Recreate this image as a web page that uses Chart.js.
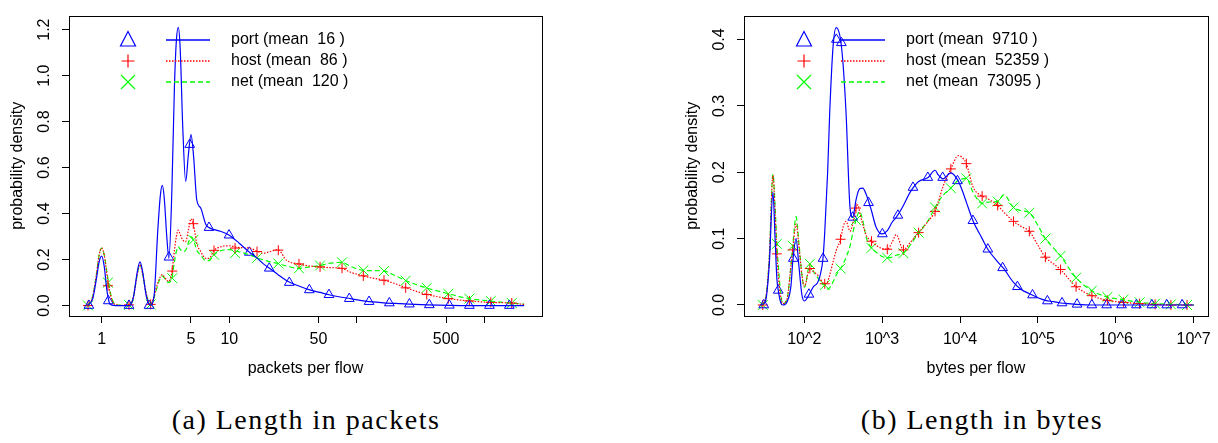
<!DOCTYPE html>
<html>
<head>
<meta charset="utf-8">
<script src="https://cdn.jsdelivr.net/npm/chart.js@4.4.0/dist/chart.umd.min.js"></script>
<style>
  body { margin: 0; background: #fff; width: 1218px; height: 443px; position: relative; overflow: hidden; }
  canvas { position: absolute; top: 0; }
  .cap { position: absolute; top: 404px; height: 32px; line-height: 32px; text-align: center;
         font-family: "Liberation Serif", serif; font-size: 28px; letter-spacing: 1.5px; color: #000; white-space: nowrap; }
</style>
</head>
<body>
<canvas id="pkts" width="609" height="390" style="left:0"></canvas>
<canvas id="bytes" width="609" height="390" style="left:609px"></canvas>
<div class="cap" style="left:0;width:612px">(a) Length in packets</div>
<div class="cap" style="left:678px;width:608px">(b) Length in bytes</div>
<script>
// x values are log10 of the flow length
const pktGrid = [-0.11,-0.07,-0.04,-0.02,0,0.02,0.04,0.06,0.08,0.11,0.22,0.25,0.28,0.30,0.32,0.35,0.38,0.41,0.44,0.46,0.475,0.49,0.51,0.527,0.55,0.57,0.585,0.60,0.615,0.635,0.658,0.68,0.70,0.72,0.745,0.776,0.815,0.84,0.88,0.93,1.0,1.08,1.16,1.22,1.27,1.32,1.38,1.45,1.54,1.63,1.71,1.78,1.88,1.95,2.05,2.1,2.21,2.3,2.41,2.55,2.72,2.88,3.04,3.2,3.31];
const pktPort = [0,0.03,0.12,0.19,0.215,0.17,0.07,0.012,0.002,0,0,0.04,0.15,0.19,0.15,0.04,0.002,0.04,0.33,0.48,0.523,0.47,0.30,0.205,0.50,0.95,1.15,1.21,1.12,0.78,0.54,0.66,0.743,0.65,0.46,0.424,0.354,0.339,0.33,0.323,0.306,0.27,0.231,0.205,0.18,0.16,0.135,0.108,0.086,0.068,0.057,0.047,0.036,0.03,0.02,0.017,0.012,0.009,0.006,0.003,0.001,0,0,0,0];
const pktHost = [0,0.04,0.14,0.22,0.25,0.22,0.14,0.07,0.025,0.003,0,0.04,0.14,0.178,0.14,0.05,0.005,0.04,0.10,0.125,0.135,0.125,0.11,0.105,0.145,0.24,0.30,0.328,0.31,0.285,0.278,0.33,0.377,0.35,0.27,0.235,0.205,0.205,0.24,0.255,0.26,0.252,0.25,0.235,0.228,0.235,0.243,0.196,0.181,0.172,0.168,0.165,0.162,0.145,0.129,0.122,0.11,0.095,0.072,0.048,0.03,0.02,0.014,0.011,0.005];
const pktNet = [0,0.04,0.14,0.22,0.25,0.22,0.15,0.08,0.03,0.004,0,0.04,0.14,0.178,0.14,0.05,0.005,0.035,0.09,0.12,0.128,0.12,0.105,0.10,0.119,0.19,0.235,0.256,0.245,0.235,0.24,0.275,0.30,0.285,0.24,0.22,0.195,0.195,0.221,0.238,0.243,0.233,0.22,0.207,0.198,0.19,0.183,0.172,0.162,0.168,0.174,0.183,0.188,0.17,0.153,0.152,0.15,0.13,0.102,0.076,0.051,0.03,0.02,0.011,0.006];
const pktPortMarkX = [-0.100,0.052,0.214,0.371,0.527,0.690,0.841,0.998,1.157,1.313,1.470,1.627,1.781,1.940,2.095,2.254,2.411,2.567,2.724,2.881,3.038,3.194];
const pktPortMarkY = [0,0.02,0,0,0.21,0.70,0.339,0.306,0.231,0.162,0.10,0.068,0.047,0.030,0.017,0.011,0.006,0.003,0.001,0,0,0];
const pktMarkX = [-0.107,0.049,0.214,0.384,0.553,0.718,0.880,1.045,1.217,1.384,1.546,1.711,1.883,2.050,2.212,2.382,2.547,2.716,2.881,3.049,3.213];
const pktHostMarkY = [0,0.086,0.003,0.005,0.15,0.356,0.24,0.25,0.235,0.241,0.181,0.168,0.162,0.129,0.11,0.077,0.048,0.03,0.02,0.014,0.011];
const pktNetMarkY = [0,0.10,0.003,0.005,0.119,0.285,0.221,0.228,0.207,0.183,0.162,0.174,0.188,0.153,0.15,0.108,0.077,0.051,0.03,0.02,0.011];
const pktTickVals = [1,5,10,50,100,500,1000];
const pktTickLabels = ['1','5','10','50','','500',''];
const pktYTicks = [0,0.2,0.4,0.6,0.8,1.0,1.2];
const pktLegend = ['port (mean  16 )','host (mean  86 )','net (mean  120 )'];

const byteGrid = [1.44,1.50,1.55,1.598,1.625,1.648,1.666,1.70,1.725,1.78,1.83,1.852,1.895,1.93,1.97,2.0,2.072,2.12,2.18,2.24,2.263,2.30,2.326,2.37,2.41,2.466,2.50,2.537,2.588,2.622,2.664,2.69,2.71,2.75,2.80,2.863,2.92,3.0,3.066,3.13,3.18,3.273,3.36,3.468,3.59,3.679,3.72,3.78,3.882,3.976,4.03,4.081,4.166,4.284,4.357,4.483,4.56,4.687,4.79,4.89,5.0,5.096,5.2,5.291,5.39,5.49,5.693,5.892,6.099,6.306,6.505,6.708,7.0];
const bytePort = [0,0.005,0.06,0.17,0.10,0.04,0.022,0.003,0,0.005,0.03,0.065,0.10,0.06,0.015,0.006,0.018,0.028,0.036,0.07,0.11,0.2,0.288,0.39,0.418,0.40,0.36,0.288,0.146,0.132,0.158,0.17,0.175,0.176,0.165,0.142,0.118,0.107,0.112,0.125,0.132,0.15,0.17,0.186,0.192,0.203,0.196,0.19,0.199,0.187,0.172,0.155,0.127,0.1,0.084,0.065,0.055,0.034,0.023,0.017,0.011,0.007,0.005,0.003,0.002,0.001,0,0,0,0,0,0,0];
const byteHost = [0,0.008,0.07,0.195,0.14,0.077,0.045,0.01,0.002,0.01,0.06,0.083,0.122,0.09,0.045,0.028,0.055,0.05,0.044,0.033,0.032,0.035,0.045,0.065,0.082,0.099,0.118,0.126,0.111,0.122,0.146,0.151,0.14,0.122,0.104,0.096,0.09,0.085,0.084,0.095,0.106,0.083,0.094,0.109,0.126,0.141,0.155,0.178,0.205,0.225,0.222,0.213,0.178,0.164,0.16,0.15,0.14,0.126,0.118,0.111,0.09,0.072,0.062,0.0535,0.04,0.0275,0.014,0.007,0.004,0.002,0.001,0,0];
const byteNet = [0,0.008,0.07,0.197,0.15,0.092,0.06,0.015,0.002,0.01,0.06,0.089,0.133,0.095,0.045,0.026,0.062,0.05,0.04,0.031,0.03,0.024,0.026,0.035,0.045,0.055,0.062,0.072,0.089,0.108,0.128,0.138,0.141,0.128,0.1,0.086,0.08,0.073,0.071,0.072,0.075,0.078,0.09,0.109,0.127,0.147,0.155,0.165,0.176,0.188,0.19,0.191,0.17,0.153,0.155,0.156,0.166,0.147,0.142,0.139,0.12,0.10,0.086,0.074,0.057,0.041,0.0216,0.012,0.008,0.004,0.002,0.001,0];
const bytePortMarkX = [1.480,1.666,1.860,2.060,2.241,2.412,2.476,2.622,2.825,3.003,3.202,3.396,3.586,3.777,3.967,4.166,4.357,4.547,4.737,4.931,5.122,5.310,5.503,5.693,5.883,6.074,6.264,6.463,6.654,6.852];
const bytePortMarkY = [0,0.022,0.07,0.016,0.07,0.40,0.395,0.132,0.154,0.107,0.135,0.177,0.192,0.192,0.187,0.127,0.084,0.056,0.0275,0.015,0.006,0.003,0.001,0,0,0,0,0,0,0];
const byteMarkX = [1.467,1.648,1.852,2.072,2.263,2.466,2.664,2.863,3.066,3.273,3.468,3.679,3.882,4.081,4.284,4.483,4.687,4.890,5.096,5.291,5.490,5.693,5.892,6.099,6.306,6.505,6.708,6.915];
const byteHostMarkY = [0,0.077,0.083,0.055,0.032,0.099,0.146,0.096,0.084,0.083,0.109,0.141,0.205,0.213,0.164,0.15,0.126,0.111,0.072,0.0535,0.0275,0.014,0.007,0.004,0.002,0.001,0,0];
const byteNetMarkY = [0,0.092,0.089,0.062,0.03,0.055,0.128,0.086,0.071,0.078,0.109,0.147,0.176,0.191,0.153,0.156,0.147,0.139,0.10,0.074,0.041,0.0216,0.012,0.008,0.004,0.002,0.001,0];
const byteTickVals = [2,3,4,5,6,7];
const byteTickLabels = ['10^2','10^3','10^4','10^5','10^6','10^7'];
const byteYTicks = [0,0.1,0.2,0.3,0.4];
const byteLegend = ['port (mean  9710 )','host (mean  52359 )','net (mean  73095 )'];

const BLUE = '#0000FF', RED = '#FF0000', GREEN = '#00FF00';
const FONT = { family: 'Liberation Sans, Arial, sans-serif', size: 16 };

Chart.defaults.color = '#000';
Chart.defaults.font.family = FONT.family;
Chart.defaults.font.size = 16;

function pairs(xs, ys) {
  return xs.map((x, i) => ({ x: x, y: ys[i] }));
}

function curve(xs, ys, color, dash, width) {
  return {
    data: pairs(xs, ys), borderColor: color, borderWidth: width, borderDash: dash,
    pointRadius: 0, fill: false, cubicInterpolationMode: 'monotone'
  };
}

function marks(xs, ys, color, style, r) {
  return {
    data: pairs(xs, ys), showLine: false, borderColor: color, backgroundColor: 'rgba(0,0,0,0)',
    pointStyle: style, pointRadius: r, pointBorderWidth: 1, pointHoverRadius: r
  };
}

const boxAndLegend = {
  id: 'boxAndLegend',
  afterDatasetsDraw(chart, args, opts) {
    const { ctx, chartArea: a } = chart;
    ctx.save();
    ctx.strokeStyle = '#000';
    ctx.lineWidth = 1;
    ctx.strokeRect(Math.round(a.left) + 0.5, Math.round(a.top) + 0.5,
      Math.round(a.right - a.left), Math.round(a.bottom - a.top));

    const colors = [BLUE, RED, GREEN];
    const dashes = [[], [1.5, 1.5], [5, 3]];
    opts.labels.forEach((label, i) => {
      const y = opts.rows[i];
      const x = opts.symX;
      ctx.strokeStyle = colors[i];
      ctx.lineWidth = 1.2;
      ctx.setLineDash([]);
      ctx.beginPath();
      if (i === 0) {
        ctx.moveTo(x, y - 8.5);
        ctx.lineTo(x - 7.5, y + 6);
        ctx.lineTo(x + 7.5, y + 6);
        ctx.closePath();
      } else if (i === 1) {
        ctx.moveTo(x - 6.5, y); ctx.lineTo(x + 6.5, y);
        ctx.moveTo(x, y - 6.5); ctx.lineTo(x, y + 6.5);
      } else {
        ctx.moveTo(x - 7, y - 7); ctx.lineTo(x + 7, y + 7);
        ctx.moveTo(x - 7, y + 7); ctx.lineTo(x + 7, y - 7);
      }
      ctx.stroke();
      ctx.setLineDash(dashes[i]);
      ctx.lineWidth = 1.3;
      ctx.beginPath();
      ctx.moveTo(opts.lineX0, y);
      ctx.lineTo(opts.lineX1, y);
      ctx.stroke();
      ctx.setLineDash([]);
      ctx.fillStyle = '#000';
      ctx.font = FONT.size + 'px ' + FONT.family;
      ctx.textBaseline = 'middle';
      ctx.fillText(label, opts.textX, y);
    });
    ctx.restore();
  }
};

function makeChart(id, cfg) {
  return new Chart(document.getElementById(id), {
    type: 'line',
    data: {
      datasets: [
        curve(cfg.grid, cfg.port, BLUE, [], 1.2),
        curve(cfg.grid, cfg.host, RED, [1.5, 1.5], 1.2),
        curve(cfg.grid, cfg.net, GREEN, [5, 3], 1.2),
        marks(cfg.portMarkX, cfg.portMarkY, BLUE, 'triangle', 5.6),
        marks(cfg.markX, cfg.hostMarkY, RED, 'cross', 5),
        marks(cfg.markX, cfg.netMarkY, GREEN, 'crossRot', 7)
      ]
    },
    plugins: [boxAndLegend],
    options: {
      responsive: false,
      animation: false,
      events: [],
      layout: { padding: cfg.padding },
      plugins: {
        legend: { display: false },
        tooltip: { enabled: false },
        boxAndLegend: cfg.legend
      },
      scales: {
        x: {
          type: 'linear',
          min: cfg.xMin,
          max: cfg.xMax,
          afterBuildTicks: s => { s.ticks = cfg.xTicks.map(v => ({ value: v })); },
          afterFit: s => { s.height = 62; },
          ticks: {
            autoSkip: false, minRotation: 0, maxRotation: 0, padding: 7,
            callback: (v, i) => cfg.xLabels[i]
          },
          grid: { drawOnChartArea: false, drawTicks: true, tickLength: 7, color: '#000' },
          border: { display: false },
          title: { display: true, text: cfg.xTitle, padding: { top: 0, bottom: 0 } }
        },
        y: {
          type: 'linear',
          min: cfg.yMin,
          max: cfg.yMax,
          afterBuildTicks: s => { s.ticks = cfg.yTicks.map(v => ({ value: v })); },
          afterFit: s => { s.width = 69; },
          ticks: {
            minRotation: 90, maxRotation: 90, crossAlign: 'center', padding: 6,
            callback: v => v.toFixed(1)
          },
          grid: { drawOnChartArea: false, drawTicks: true, tickLength: 7, color: '#000' },
          border: { display: false },
          title: { display: true, text: 'probability density', padding: { top: 8, bottom: 0 } }
        }
      }
    }
  });
}

makeChart('pkts', {
  grid: pktGrid, port: pktPort, host: pktHost, net: pktNet,
  portMarkX: pktPortMarkX, portMarkY: pktPortMarkY,
  markX: pktMarkX, hostMarkY: pktHostMarkY, netMarkY: pktNetMarkY,
  xMin: -0.256, xMax: 3.45, yMin: -0.0455, yMax: 1.261,
  xTicks: pktTickVals.map(v => Math.log10(v)), xLabels: pktTickLabels,
  yTicks: pktYTicks, xTitle: 'packets per flow',
  padding: { left: 0, right: 67, top: 9, bottom: 12 },
  legend: { labels: pktLegend, symX: 128, lineX0: 166, lineX1: 210, textX: 231, rows: [40, 61, 82] }
});

makeChart('bytes', {
  grid: byteGrid, port: bytePort, host: byteHost, net: byteNet,
  portMarkX: bytePortMarkX, portMarkY: bytePortMarkY,
  markX: byteMarkX, hostMarkY: byteHostMarkY, netMarkY: byteNetMarkY,
  xMin: 1.226, xMax: 7.18, yMin: -0.0166, yMax: 0.436,
  xTicks: byteTickVals, xLabels: byteTickLabels,
  yTicks: byteYTicks, xTitle: 'bytes per flow',
  padding: { left: 66, right: 5, top: 9, bottom: 12 },
  legend: { labels: byteLegend, symX: 195, lineX0: 232, lineX1: 276, textX: 297, rows: [40, 61, 82] }
});
</script>
</body>
</html>
